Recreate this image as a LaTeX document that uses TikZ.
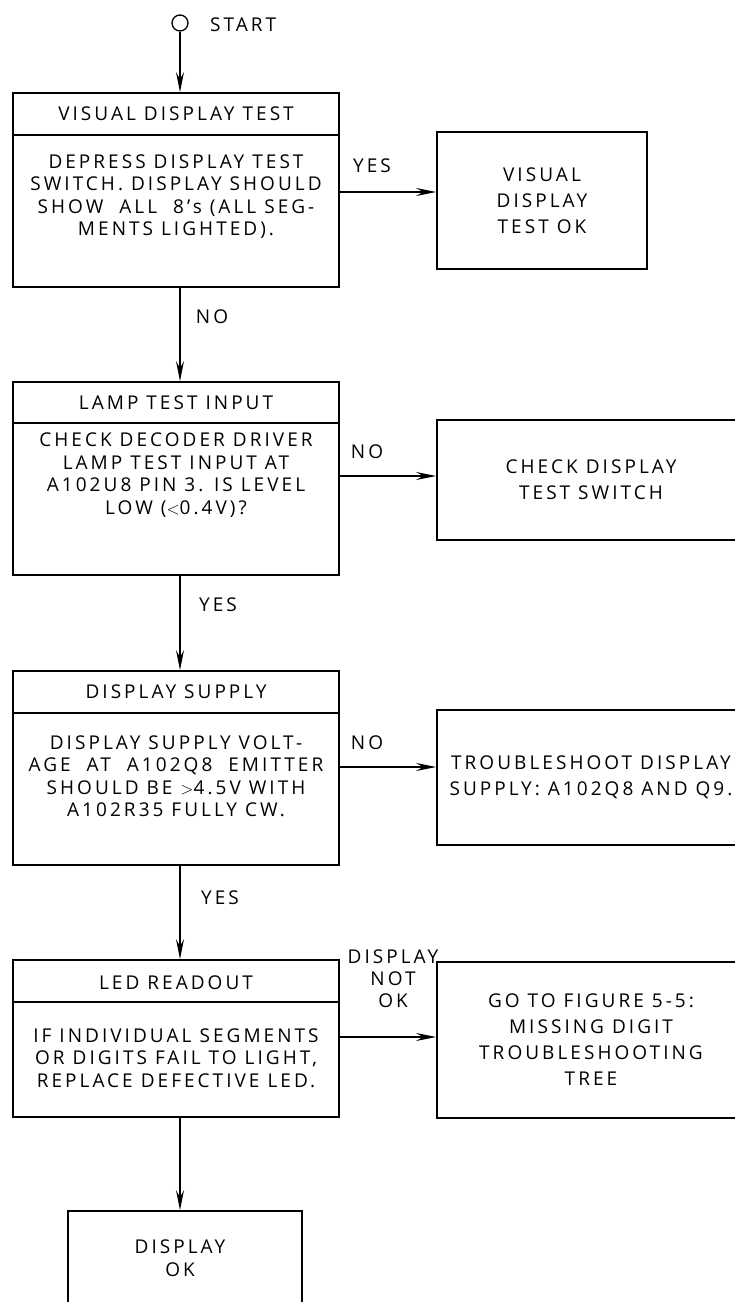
\documentclass[tikz,border=0pt]{standalone}
\usepackage{fontspec}
\setmainfont{Open Sans}[LetterSpace=16]
\usetikzlibrary{arrows.meta}
\begin{document}
\begin{tikzpicture}[x=1pt,y=-1pt,
  txt/.style={font=\fontsize{19}{22.5}\selectfont, inner sep=0pt, align=center},
  frame/.style={draw, line width=1.8pt, inner sep=0pt},
  rbox/.style={frame, font=\fontsize{19}{26}\selectfont, align=center},
  sep/.style={line width=1.6pt},
  arr/.style={line width=1.4pt, -{Stealth[length=20pt,width=8pt,inset=7pt]}},
  lbl/.style={font=\fontsize{19}{22}\selectfont, inner sep=0pt, align=center}
]
\useasboundingbox (0,0) rectangle (735,1302);
\clip (0,0) rectangle (735,1302);
\fill[white] (0,0) rectangle (735,1302);

% start
\node[circle, draw, line width=1.3pt, minimum size=16pt, inner sep=0pt] (start) at (180,23) {};
\node[lbl, anchor=west] (startl) at (210,25) {START};

% main boxes (frames)
\node[frame, minimum width=326pt, minimum height=194pt] (b1) at (176,190) {};
\node[frame, minimum width=326pt, minimum height=193pt] (b2) at (176,478.5) {};
\node[frame, minimum width=326pt, minimum height=194pt] (b3) at (176,768) {};
\node[frame, minimum width=326pt, minimum height=157pt] (b4) at (176,1038.5) {};
\node[frame, minimum width=234pt, minimum height=120pt] (b5) at (185,1271) {};

% separators
\draw[sep] (b1.west |- 0,135) -- (b1.east |- 0,135);
\draw[sep] (b2.west |- 0,423) -- (b2.east |- 0,423);
\draw[sep] (b3.west |- 0,713) -- (b3.east |- 0,713);
\draw[sep] (b4.west |- 0,1002) -- (b4.east |- 0,1002);

% headers
\node[txt] (b1h) at (176,114) {VISUAL DISPLAY TEST};
\node[txt] (b2h) at (176,403) {LAMP TEST INPUT};
\node[txt] (b3h) at (176,692) {DISPLAY SUPPLY};
\node[txt] (b4h) at (176,983) {LED READOUT};

% bodies
\node[txt] (b1t) at (176,196.5) {DEPRESS DISPLAY TEST\\SWITCH. DISPLAY SHOULD\\SHOW\ \ ALL\ \ 8's (ALL SEG-\\MENTS LIGHTED).};
\node[txt] (b2t) at (176,475) {CHECK DECODER DRIVER\\LAMP TEST INPUT AT\\A102U8 PIN 3. IS LEVEL\\LOW ($<$0.4V)?};
\node[txt] (b3t) at (176,776) {DISPLAY SUPPLY VOLT-\\AGE\ \ AT\ \ A102Q8\ \ EMITTER\\SHOULD BE $>$4.5V WITH\\A102R35 FULLY CW.};
\node[txt] (b4t) at (176,1058) {IF INDIVIDUAL SEGMENTS\\OR DIGITS FAIL TO LIGHT,\\REPLACE DEFECTIVE LED.};
\node[txt] (b5t) at (180,1258) {DISPLAY\\OK};

% right boxes
\node[rbox, minimum width=210pt, minimum height=137pt] (r1) at (542,200.5) {VISUAL\\DISPLAY\\TEST OK};
\node[rbox, minimum width=308pt, minimum height=120pt] (r2) at (591,480) {CHECK DISPLAY\\TEST SWITCH};
\node[rbox, minimum width=308pt, minimum height=135pt] (r3) at (591,777.5) {TROUBLESHOOT DISPLAY\\SUPPLY: A102Q8 AND Q9.};
\node[rbox, minimum width=308pt, minimum height=156pt] (r4) at (591,1040) {GO TO FIGURE 5-5:\\MISSING DIGIT\\TROUBLESHOOTING\\TREE};

% connector heights
\coordinate (y1) at (0,192);
\coordinate (y2) at (0,476);
\coordinate (y3) at (0,767);
\coordinate (y4) at (0,1037);

% vertical arrows
\draw[arr] (start.south) -- (start.south |- b1.north);
\draw[arr] (b1.south -| start) -- (b2.north -| start);
\draw[arr] (b2.south -| start) -- (b3.north -| start);
\draw[arr] (b3.south -| start) -- (b4.north -| start);
\draw[arr] (b4.south -| start) -- (b5.north -| start);

% horizontal arrows
\draw[arr] (b1.east |- y1) -- (r1.west |- y1);
\draw[arr] (b2.east |- y2) -- (r2.west |- y2);
\draw[arr] (b3.east |- y3) -- (r3.west |- y3);
\draw[arr] (b4.east |- y4) -- (r4.west |- y4);

% labels
\node[lbl] (l1) at (372,166) {YES};
\node[lbl] (l2) at (212,317) {NO};
\node[lbl] (l3) at (367,452) {NO};
\node[lbl] (l4) at (218,605) {YES};
\node[lbl] (l5) at (367,743) {NO};
\node[lbl] (l6) at (220,898) {YES};
\node[lbl] (l7) at (393,979) {DISPLAY\\NOT\\OK};
\end{tikzpicture}
\end{document}
